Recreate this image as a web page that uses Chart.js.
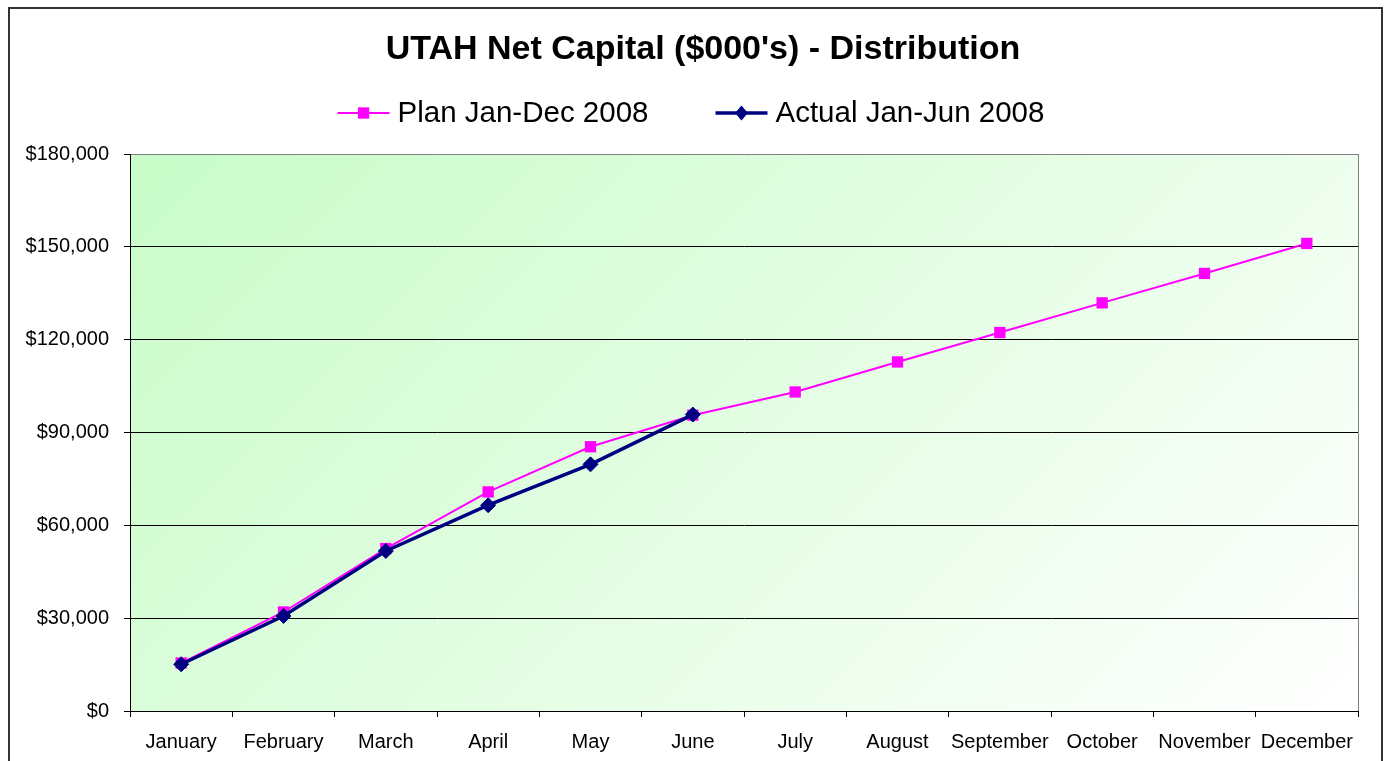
<!DOCTYPE html>
<html>
<head>
<meta charset="utf-8">
<script src="https://cdn.jsdelivr.net/npm/chart.js@4.4.1/dist/chart.umd.min.js"></script>
<style>
  html, body { margin: 0; padding: 0; background: #fff; }
  #wrap { width: 1385px; height: 761px; position: relative; }
</style>
</head>
<body>
<div id="wrap"><canvas id="netCapital" width="1385" height="761"></canvas></div>
<script>
const months = ["January", "February", "March", "April", "May", "June",
  "July", "August", "September", "October", "November", "December"];
const planValues = [15500, 32000, 52500, 70800, 85400, 95600,
  103100, 112800, 122300, 131900, 141400, 151100];
const actualValues = [15100, 30700, 51700, 66500, 79700, 95800];
const yTicks = [0, 30000, 60000, 90000, 120000, 150000, 180000];

const chartTitle = "UTAH Net Capital ($000's) - Distribution";
const FONT = "'Liberation Sans', Arial, sans-serif";

// background, frame, title and the line+marker legend
const decor = {
  id: "decor",
  beforeDraw(chart) {
    const { ctx, chartArea: a } = chart;
    ctx.save();
    ctx.fillStyle = "#fff";
    ctx.fillRect(0, 0, chart.width, chart.height);
    const w = a.right - a.left, h = a.bottom - a.top;
    const d = (w + h) / 2;
    const g = ctx.createLinearGradient(a.left, a.top, a.left + d, a.top + d);
    g.addColorStop(0, "#c8fcc8");
    g.addColorStop(1, "#ffffff");
    ctx.fillStyle = g;
    ctx.fillRect(a.left, a.top, w, h);
    // outer frame
    ctx.strokeStyle = "#333";
    ctx.lineWidth = 2;
    ctx.strokeRect(9, 8, 1373, 770);
    ctx.restore();
  },
  beforeDatasetsDraw(chart) {
    const { ctx, chartArea: a } = chart;
    ctx.save();
    ctx.strokeStyle = "#808080";
    ctx.lineWidth = 1;
    ctx.beginPath();
    ctx.moveTo(a.right + 0.5, a.top);
    ctx.lineTo(a.right + 0.5, a.bottom);
    ctx.stroke();
    ctx.restore();
  },
  afterDraw(chart) {
    const { ctx } = chart;
    ctx.save();
    ctx.fillStyle = "#000";
    ctx.textAlign = "center";
    ctx.textBaseline = "middle";
    ctx.font = "bold 34px " + FONT;
    ctx.fillText(chartTitle, 703, 50);

    // legend
    ctx.font = "29.5px " + FONT;
    ctx.textAlign = "left";
    const lineLen = 52, gap = 8, itemGap = 67;
    const items = chart.data.datasets.map(ds => ({ ds, w: ctx.measureText(ds.label).width }));
    const total = items.reduce((s, it) => s + lineLen + gap + it.w, 0) + itemGap * (items.length - 1);
    let x = 691 - total / 2;
    const y = 113;
    items.forEach(it => {
      const ds = it.ds;
      ctx.strokeStyle = ds.borderColor;
      ctx.lineWidth = ds.borderWidth;
      ctx.beginPath();
      ctx.moveTo(x, y);
      ctx.lineTo(x + lineLen, y);
      ctx.stroke();
      ctx.fillStyle = ds.pointBackgroundColor;
      const cx = x + lineLen / 2, r = ds.pointRadius;
      if (ds.pointStyle === "rect") {
        const s = Math.SQRT1_2 * r;
        ctx.fillRect(cx - s, y - s, s * 2, s * 2);
      } else {
        ctx.beginPath();
        ctx.moveTo(cx, y - r);
        ctx.lineTo(cx + r * 0.85, y);
        ctx.lineTo(cx, y + r);
        ctx.lineTo(cx - r * 0.85, y);
        ctx.closePath();
        ctx.fill();
      }
      ctx.fillStyle = "#000";
      ctx.fillText(ds.label, x + lineLen + gap, y + 1);
      x += lineLen + gap + it.w + itemGap;
    });
    ctx.restore();
  }
};

new Chart(document.getElementById("netCapital"), {
  type: "line",
  data: {
    labels: months,
    datasets: [
      {
        label: "Plan Jan-Dec 2008",
        data: planValues,
        borderColor: "#ff00ff",
        backgroundColor: "#ff00ff",
        pointBackgroundColor: "#ff00ff",
        pointBorderColor: "#ff00ff",
        borderWidth: 2,
        pointStyle: "rect",
        pointRadius: 8,
        pointBorderWidth: 0,
        tension: 0,
        order: 1
      },
      {
        label: "Actual Jan-Jun 2008",
        data: actualValues,
        borderColor: "#000080",
        backgroundColor: "#000080",
        pointBackgroundColor: "#000080",
        pointBorderColor: "#000080",
        borderWidth: 3.5,
        pointStyle: "rectRot",
        pointRadius: 7.5,
        pointBorderWidth: 1,
        tension: 0,
        order: 0
      }
    ]
  },
  options: {
    responsive: false,
    animation: false,
    layout: { padding: { top: 154, right: 27, left: 0, bottom: 0 } },
    plugins: {
      legend: { display: false },
      title: { display: false },
      tooltip: { enabled: false }
    },
    scales: {
      x: {
        offset: true,
        grid: { display: true, offset: true, drawOnChartArea: false, color: "#000", tickLength: 6 },
        border: { color: "#000", width: 1 },
        ticks: { color: "#000", font: { family: FONT, size: 20 }, padding: 13, maxRotation: 0, autoSkip: false },
        afterFit(scale) { scale.height = 50; }
      },
      y: {
        min: 0,
        max: 180000,
        afterBuildTicks(scale) { scale.ticks = yTicks.map(v => ({ value: v })); },
        grid: {
          color: c => (c.tick && c.tick.value === 180000 ? "#808080" : "#000"),
          tickColor: "#000",
          tickLength: 6
        },
        border: { color: "#000", width: 1 },
        ticks: {
          color: "#000",
          font: { family: FONT, size: 20 },
          padding: 15,
          callback: v => "$" + v.toLocaleString("en-US")
        },
        afterFit(scale) { scale.width = 130; }
      }
    }
  },
  plugins: [decor]
});
</script>
</body>
</html>
